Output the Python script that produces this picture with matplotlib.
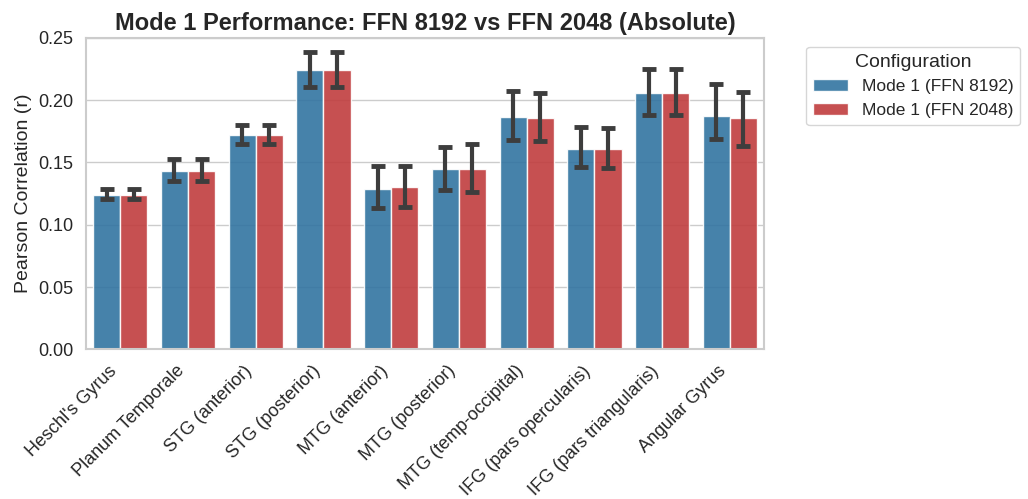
import numpy as np
import matplotlib.pyplot as plt
import seaborn as sns

regions = [
    "Heschl's Gyrus", "Planum Temporale", "STG (anterior)", "STG (posterior)",
    "MTG (anterior)", "MTG (posterior)", "MTG (temp-occipital)",
    "IFG (pars opercularis)", "IFG (pars triangularis)", "Angular Gyrus",
]
configs = ["Mode 1 (FFN 8192)", "Mode 1 (FFN 2048)"]

# mean Pearson r per region
r_8192 = [0.1238, 0.1431, 0.1718, 0.2240, 0.1289, 0.1444, 0.1868, 0.1608, 0.2060, 0.1876]
r_2048 = [0.1238, 0.1431, 0.1718, 0.2240, 0.1300, 0.1449, 0.1860, 0.1608, 0.2060, 0.1854]

# 95% CI bounds
lo_8192 = [0.1206, 0.1350, 0.1650, 0.2103, 0.1131, 0.1278, 0.1677, 0.1460, 0.1884, 0.1688]
hi_8192 = [0.1284, 0.1530, 0.1800, 0.2385, 0.1469, 0.1626, 0.2071, 0.1787, 0.2248, 0.2127]
lo_2048 = [0.1206, 0.1350, 0.1650, 0.2103, 0.1139, 0.1265, 0.1672, 0.1452, 0.1884, 0.1632]
hi_2048 = [0.1284, 0.1530, 0.1800, 0.2385, 0.1474, 0.1650, 0.2055, 0.1774, 0.2248, 0.2068]

sns.set_theme(style="whitegrid")
plt.rcParams["font.family"] = ["Liberation Sans", "DejaVu Sans"]

fig, ax = plt.subplots(figsize=(10.28, 4.99), dpi=100)

x = np.arange(len(regions))
width = 0.4
colors = [sns.desaturate("#1f77b4", 0.75), sns.desaturate("#d62728", 0.75)]
series = [(r_8192, lo_8192, hi_8192), (r_2048, lo_2048, hi_2048)]

for i, (vals, lo, hi) in enumerate(series):
    vals = np.array(vals)
    pos = x - width / 2 + i * width
    ax.bar(pos, vals, width, color=colors[i], alpha=0.9,
           edgecolor="white", linewidth=1, label=configs[i], zorder=2)
    yerr = [vals - np.array(lo), np.array(hi) - vals]
    ax.errorbar(pos, vals, yerr=yerr, fmt="none", ecolor="#3d3d3d",
                elinewidth=3, capsize=5, capthick=3.5, zorder=3)

ax.set_xlim(-0.5, len(regions) - 0.5)
ax.set_ylim(0, 0.25)
ax.set_xticks(x)
ax.set_xticklabels(regions, rotation=45, ha="right", fontsize=13)
ax.tick_params(axis="y", labelsize=13)
ax.set_ylabel("Pearson Correlation (r)", fontsize=14)
ax.set_title("Mode 1 Performance: FFN 8192 vs FFN 2048 (Absolute)",
             fontsize=17, fontweight="bold")
ax.grid(axis="x", visible=False)
for s in ax.spines.values():
    s.set_color("#cccccc")
    s.set_linewidth(1.5)

ax.legend(title="Configuration", bbox_to_anchor=(1.05, 1), loc="upper left",
          fontsize=12.5, title_fontsize=14)

fig.subplots_adjust(left=0.084, right=0.743, top=0.924, bottom=0.30)
fig.savefig("out.png", dpi=100)
